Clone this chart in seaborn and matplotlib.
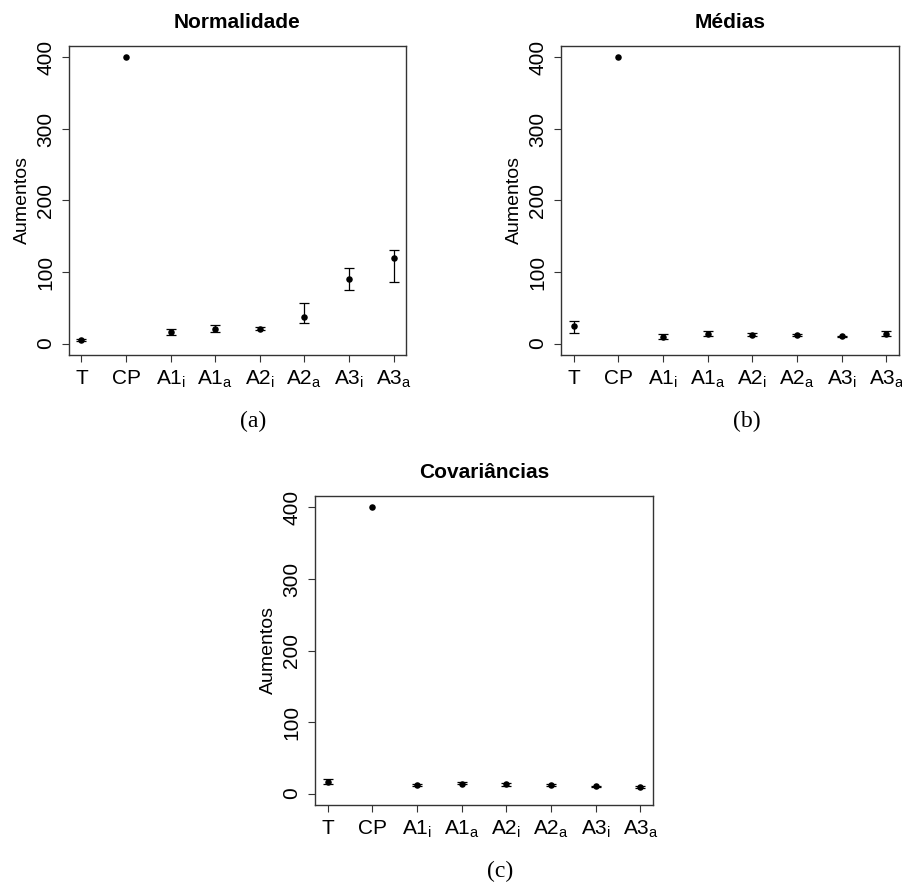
import matplotlib
matplotlib.use("Agg")
import matplotlib.pyplot as plt
import seaborn as sns
import numpy as np
import pandas as pd

# Categories (tick labels with subscripts)
categories = ["T", "CP", r"A1$_{\mathrm{i}}$", r"A1$_{\mathrm{a}}$",
              r"A2$_{\mathrm{i}}$", r"A2$_{\mathrm{a}}$",
              r"A3$_{\mathrm{i}}$", r"A3$_{\mathrm{a}}$"]

# Normalidade
norm_mean = [5, 400, 16, 20, 21, 37, 90, 120]
norm_low = [4, 400, 12, 16, 19, 29, 75, 86]
norm_high = [6, 400, 20, 26, 23, 57, 106, 131]

# Médias
med_mean = [25, 400, 9, 13, 12, 12, 10, 13]
med_low = [15, 400, 7, 10, 10, 11, 9, 10]
med_high = [31, 400, 13, 17, 15, 14, 11, 17]

# Covariâncias
cov_mean = [16, 400, 12, 14, 13, 12, 10, 9]
cov_low = [13, 400, 10, 13, 11, 10, 9, 8]
cov_high = [20, 400, 14, 16, 15, 14, 11, 10]

titles = ["Normalidade", "Médias", "Covariâncias"]
captions = ["(a)", "(b)", "(c)"]
y_ticks = [0, 100, 200, 300, 400]

sns.set_style("white")
plt.rcParams["font.family"] = ["Liberation Sans", "DejaVu Sans"]
plt.rcParams["mathtext.fontset"] = "custom"
plt.rcParams["mathtext.rm"] = "Liberation Sans"
plt.rcParams["mathtext.it"] = "Liberation Sans:italic"
for key in ["text.color", "axes.labelcolor", "xtick.color", "ytick.color"]:
    plt.rcParams[key] = "black"

W, H = 903, 885
fig = plt.figure(figsize=(W / 100, H / 100), dpi=100)

# axes boxes in pixels: left, top, right, bottom
boxes = [(69, 46, 406, 355), (561, 46, 899, 355), (315, 496, 653, 805)]
caption_pos = [(253, 421), (747, 421), (500, 871)]

series = [(norm_mean, norm_low, norm_high),
          (med_mean, med_low, med_high),
          (cov_mean, cov_low, cov_high)]

for (l, t, r, b), (mean, low, high), title, cap, (cx, cy) in zip(
        boxes, series, titles, captions, caption_pos):
    ax = fig.add_axes([l / W, 1 - b / H, (r - l) / W, (b - t) / H])
    df = pd.DataFrame({"pos": np.arange(1, len(categories) + 1),
                       "mean": mean, "low": low, "high": high})
    has_err = df["high"] > df["low"]
    e = df[has_err]
    ax.errorbar(e["pos"], e["mean"],
                yerr=[e["mean"] - e["low"], e["high"] - e["mean"]],
                fmt="none", ecolor="black", elinewidth=0.9,
                capsize=3.5, capthick=0.9)
    sns.scatterplot(data=df, x="pos", y="mean", ax=ax, color="black",
                    s=22, edgecolor="black", linewidth=0, zorder=3)
    ax.set_xlim(0.72, 8.28)
    ax.set_ylim(-16, 416)
    ax.set_xticks(df["pos"])
    ax.set_xticklabels(categories, fontsize=15)
    ax.set_yticks(y_ticks)
    ax.set_yticklabels([str(v) for v in y_ticks], fontsize=15,
                       rotation=90, va="center")
    ax.set_xlabel("")
    ax.set_ylabel("Aumentos", fontsize=14, labelpad=4)
    ax.set_title(title, fontsize=15, fontweight="bold", pad=13)
    ax.tick_params(axis="both", direction="out", length=5, width=0.8,
                   color="#333333", pad=5, left=True, bottom=True)
    for s in ax.spines.values():
        s.set_visible(True)
        s.set_color("#333333")
        s.set_linewidth(1.0)
    fig.text(cx / W, 1 - cy / H, cap, ha="center", va="center",
             fontsize=17, family=["Liberation Serif", "DejaVu Serif"])

fig.savefig("out.png", dpi=100)
